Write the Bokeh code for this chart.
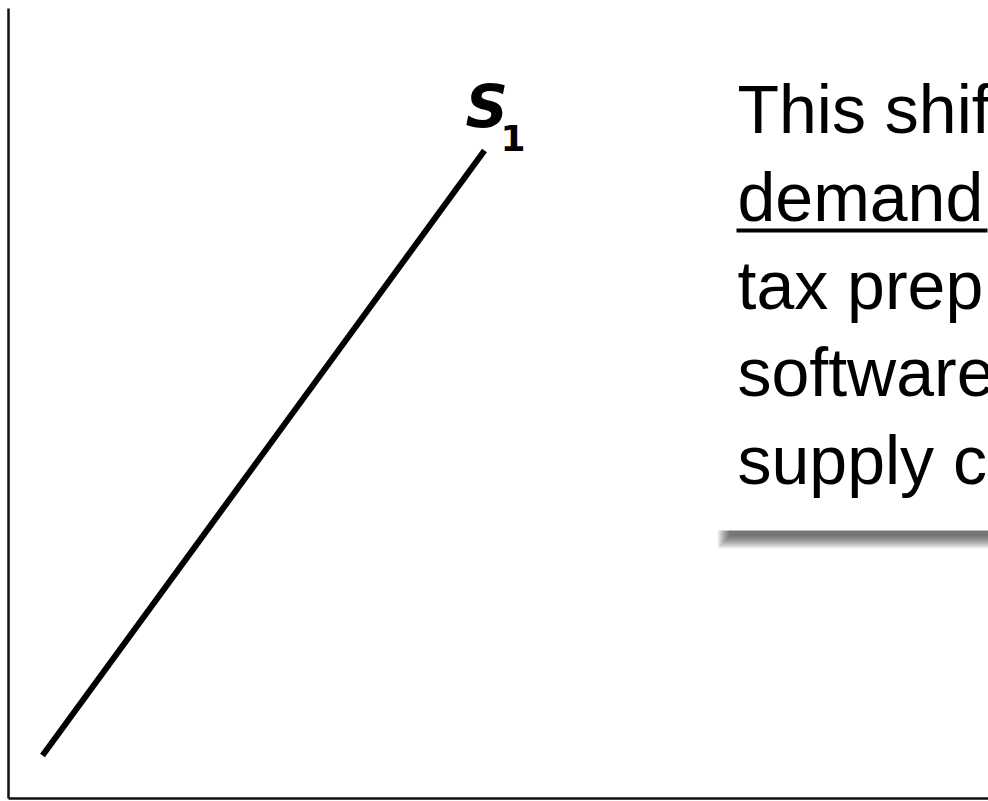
from bokeh.plotting import figure
from bokeh.models import Range1d, Label, FixedTicker
from bokeh.embed import file_html
from bokeh.resources import INLINE

# ---- data (arbitrary quantity / price units) ----
quantity = [3.47, 48.57]        # supply curve S1: start and end quantity
price = [5.44, 82.03]           # supply curve S1: start and end price
curve_name = "S"
curve_sub = "1"
note_lines = ["This shif", "demand", "tax prep", "software", "supply c"]
underlined_line = 1

# ---- layout (page pixels) ----
W, H = 988, 801
FRAME_L, FRAME_R = 8, 988
FRAME_T, FRAME_B = 8, 798

p = figure(width=W, height=H, output_backend="svg", toolbar_location=None,
           x_range=Range1d(0, 100), y_range=Range1d(0, 100),
           min_border_left=FRAME_L, min_border_right=W - FRAME_R,
           min_border_top=FRAME_T, min_border_bottom=H - FRAME_B,
           background_fill_color="white", border_fill_color="white",
           outline_line_color=None)
p.grid.visible = False
for ax in (p.xaxis[0], p.yaxis[0]):
    ax.ticker = FixedTicker(ticks=[])
    ax.major_tick_line_color = None
    ax.minor_tick_line_color = None
    ax.major_label_text_font_size = "0px"
    ax.major_label_standoff = 0
    ax.major_tick_out = 0
    ax.major_tick_in = 0
    ax.axis_line_color = "#111111"
    ax.axis_line_width = 2.5


def sx(px):
    return (px - FRAME_L) * 100.0 / (FRAME_R - FRAME_L)


def sy(py):
    return (FRAME_B - py) * 100.0 / (FRAME_B - FRAME_T)


def label_y(baseline_px, size_px):
    # Bokeh's svg text sits ~0.37 em lower than the requested alphabetic baseline
    return sy(baseline_px - 0.37 * size_px)


# supply curve
p.line(quantity, price, line_color="black", line_width=6, line_cap="butt")

# curve label S1
p.add_layout(Label(x=sx(465), y=label_y(128, 59), text=curve_name, text_font="DejaVu Sans",
                   text_font_style="bold italic", text_font_size="59px",
                   text_baseline="alphabetic", text_align="left", text_color="black"))
p.add_layout(Label(x=sx(500), y=label_y(151, 36), text=curve_sub, text_font="DejaVu Sans",
                   text_font_style="bold", text_font_size="36px",
                   text_baseline="alphabetic", text_align="left", text_color="black"))

# text box drop shadow (soft) and white box
for k in range(13):
    p.quad(left=sx(729 - k), right=sx(1010), top=sy(300), bottom=sy(536 + k),
           fill_color="black", fill_alpha=0.055, line_color=None)
p.quad(left=sx(712), right=sx(1010), top=sy(40), bottom=sy(530),
       fill_color="white", line_color=None)

# note text
baselines = [134, 222, 310, 397, 485]
for i, t in enumerate(note_lines):
    p.add_layout(Label(x=sx(737), y=label_y(baselines[i], 68), text=t,
                       text_font="Liberation Sans", text_font_size="68px",
                       text_baseline="alphabetic", text_align="left", text_color="black"))
    if i == underlined_line:
        p.quad(left=sx(736), right=sx(987), top=sy(228), bottom=sy(232),
               fill_color="black", line_color=None)

open("out.html", "w").write(file_html(p, INLINE))
